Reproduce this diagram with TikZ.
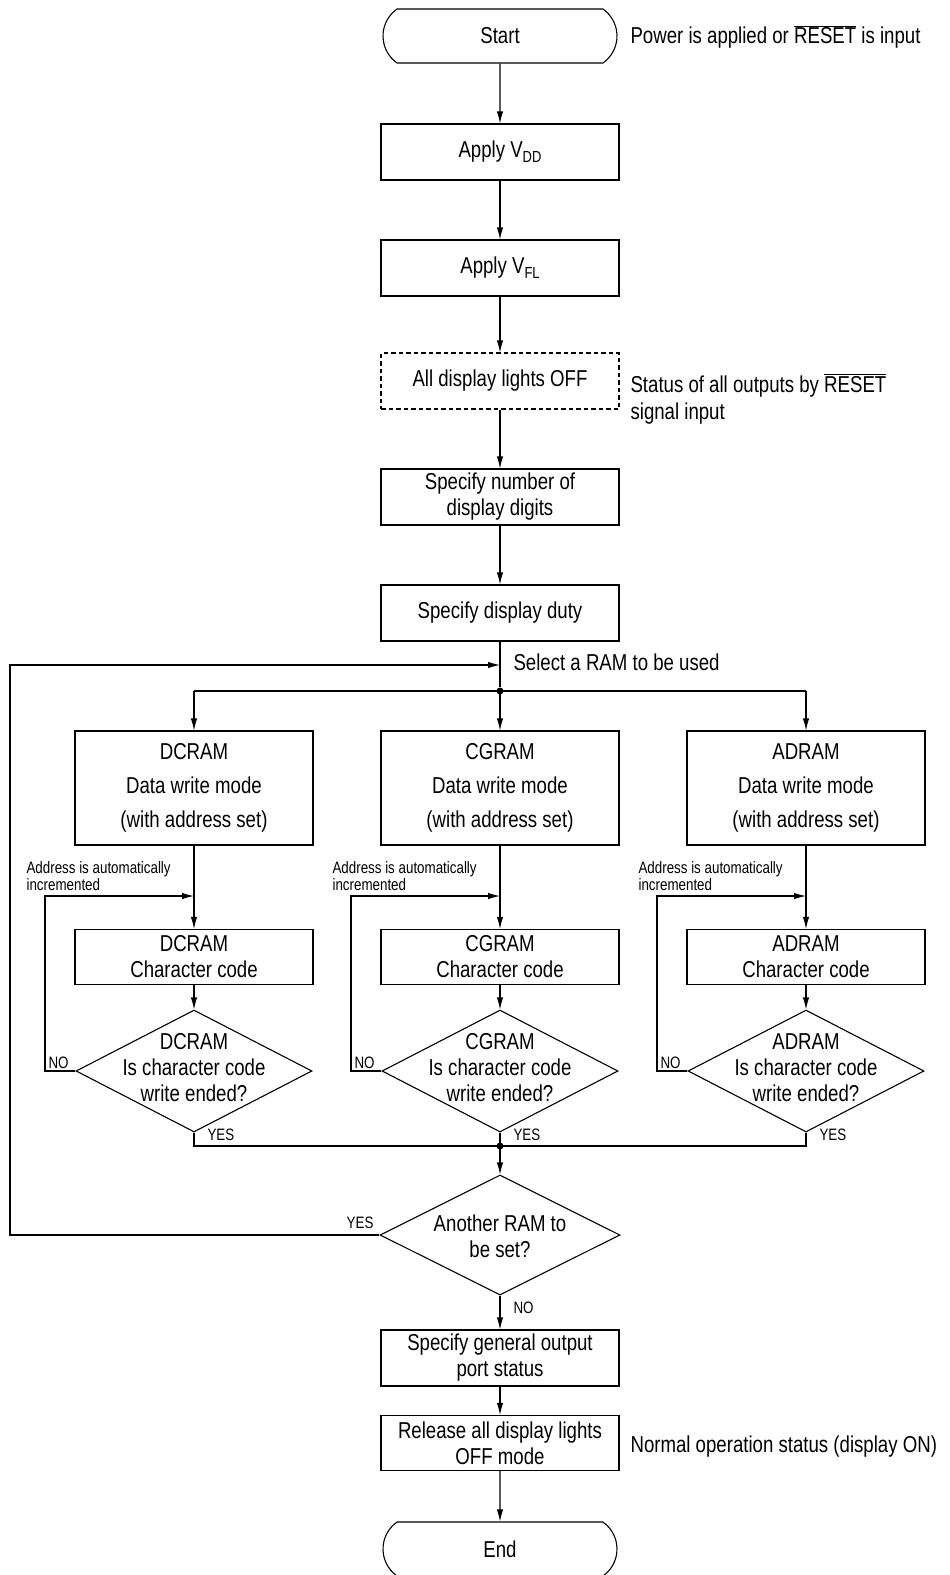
\documentclass[tikz,border=0pt]{standalone}
\usepackage{fontspec}
\setmainfont{Liberation Sans}[FakeStretch=0.81]
\usetikzlibrary{arrows.meta,shapes.geometric,shapes.misc}
\newcommand\ovl[1]{$\overline{\hbox{#1}}$}
\newcommand\subs[1]{\raisebox{-0.35ex}{\fontsize{16}{16}\selectfont #1}}
\begin{document}
\begin{tikzpicture}[x=1pt,y=-1pt,
  line width=1.1pt,
  >={Latex[length=12pt,width=6.5pt]},
  box/.style={draw,rectangle,minimum width=238pt,minimum height=56pt,inner sep=0pt,align=center,font=\fontsize{23}{26}\selectfont},
  bigbox/.style={box,minimum height=114pt,font=\fontsize{23}{34}\selectfont},
  term/.style={draw,rounded rectangle,rounded rectangle arc length=110,minimum width=234pt,minimum height=54pt,inner sep=0pt,font=\fontsize{23}{26}\selectfont},
  dia/.style={draw,diamond,minimum width=236pt,minimum height=122pt,inner sep=0pt},
  dtext/.style={inner sep=0pt,align=center,font=\fontsize{23}{26}\selectfont},
  txt/.style={inner sep=0pt,align=left,font=\fontsize{23}{27}\selectfont},
  small/.style={inner sep=0pt,align=left,font=\fontsize{16.5}{17}\selectfont},
  dot/.style={circle,fill,inner sep=0pt,minimum size=7pt}
]
\useasboundingbox (0,0) rectangle (950,1575);

% main column top
\node[term] (start) at (500,36) {Start};
\node[txt,anchor=west] (n1) at (630,37) {Power is applied or \ovl{RESET} is input};
\node[box] (vdd) at (500,152) {Apply V\subs{DD}};
\node[box] (vfl) at (500,268) {Apply V\subs{FL}};
\node[box,dash pattern=on 4.5pt off 3pt] (off) at (500,381) {All display lights OFF};
\node[txt,anchor=west] (n2) at (630,399) {Status of all outputs by \ovl{RESET}\\signal input};
\node[box] (digits) at (500,497) {Specify number of\\display digits};
\node[box] (duty) at (500,613) {Specify display duty};
\coordinate (sel) at (500,665);
\node[txt,anchor=west] (n3) at (513,662) {Select a RAM to be used};
\node[dot] (split) at (500,691) {};

\draw[->] (start) -- (vdd);
\draw[->] (vdd) -- (vfl);
\draw[->] (vfl) -- (off);
\draw[->] (off) -- (digits);
\draw[->] (digits) -- (duty);
\draw (duty) -- (split);

\coordinate (join) at (500,1146);
\node[dot] (joindot) at (join) {};

\foreach \n/\cx in {DCRAM/194,CGRAM/500,ADRAM/806}{
  \node[bigbox] (big\n) at (\cx,788) {\n\\Data write mode\\(with address set)};
  \node[box,minimum height=55pt] (sm\n) at (\cx,957) {\n\\Character code};
  \node[dia] (d\n) at (\cx,1071) {};
  \node[dtext] (dt\n) at (\cx,1068) {\n\\Is character code\\write ended?};
  \coordinate (top\n) at (\cx,691);
  \coordinate (l\n) at (\cx-149,896);
  \coordinate (m\n) at (\cx,896);
  \draw[->] (top\n) -- (big\n);
  \draw[->] (big\n) -- (sm\n);
  \draw[->] (sm\n) -- (d\n);
  \draw[->] (d\n.west) -| (l\n) -- (m\n);
  \draw (d\n.south) |- (join);
  \node[small,anchor=south west] (addr\n) at (\cx-168,891) {Address is automatically\\incremented};
  \node[small,anchor=base west] (no\n) at (\cx-146,1068) {NO};
  \node[small,anchor=base west] (yes\n) at (\cx+13,1140) {YES};
}
\draw (topDCRAM) -- (topADRAM);

\node[dia,minimum width=240pt,minimum height=120pt] (ram) at (500,1235) {};
\node[dtext] (ramt) at (500,1236) {Another RAM to\\be set?};
\draw[->] (join) -- (ram);
\coordinate (back1) at (10,1235);
\coordinate (back2) at (10,665);
\draw[->] (ram.west) -- (back1) -- (back2) -- (sel);
\node[small,anchor=south east] (yesram) at (374,1229) {YES};

\node[box] (gen) at (500,1358) {Specify general output\\port status};
\node[box,minimum height=55pt] (rel) at (500,1443) {Release all display lights\\OFF mode};
\node[term] (end) at (500,1549) {End};
\node[txt,anchor=west] (n4) at (630,1447) {Normal operation status (display ON)};
\draw[->] (ram.south) -- (gen);
\node[small,anchor=west] (noram) at (513,1308) {NO};
\draw[->] (gen) -- (rel);
\draw[->] (rel) -- (end);
\end{tikzpicture}
\end{document}
